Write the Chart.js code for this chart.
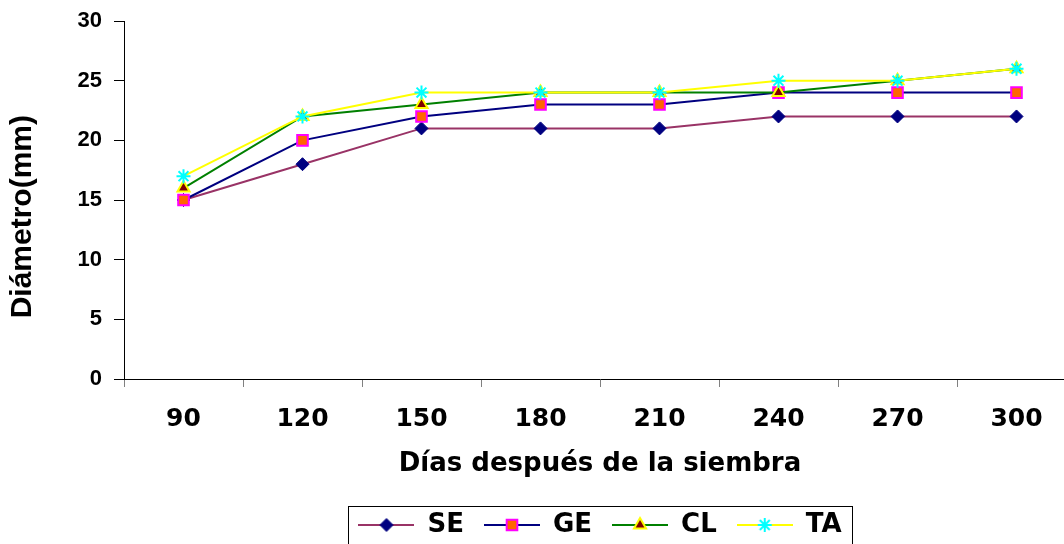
<!DOCTYPE html>
<html>
<head>
    <title>Diámetro - días después de la siembra</title>
    <script src="https://cdn.jsdelivr.net/npm/chart.js"></script>
    <style>
        html, body { margin: 0; padding: 0; background: #fff; overflow: hidden; }
        #wrap { position: relative; width: 1200px; height: 548px; }
    </style>
</head>
<body>
    <div id="wrap"><canvas id="diamChart"></canvas></div>
    <script>
        // Días después de la siembra
        const dias = ['90', '120', '150', '180', '210', '240', '270', '300'];

        // Diámetro (mm) por tratamiento
        const se = [15, 18, 21, 21, 21, 22, 22, 22];
        const ge = [15, 20, 22, 23, 23, 24, 24, 24];
        const cl = [16, 22, 23, 24, 24, 24, 25, 26];
        const ta = [17, 22, 24, 24, 24, 25, 25, 26];

        const yTicks = [0, 5, 10, 15, 20, 25, 30];

        const arialBold = size => ({ family: 'Liberation Sans, Arial, sans-serif', size: size, weight: 'bold' });
        const wideBold = size => ({ family: 'DejaVu Sans, sans-serif', size: size, weight: 'bold' });

        const series = [
            { label: 'SE', data: se, line: '#993366', style: 'rectRot', fill: '#000080', stroke: '#000080', radius: 6.5, bw: 1 },
            { label: 'GE', data: ge, line: '#000080', style: 'rect', fill: '#FF6600', stroke: '#FF00FF', radius: 7.5, bw: 2 },
            { label: 'CL', data: cl, line: '#008000', style: 'triangle', fill: '#800000', stroke: '#FFFF00', radius: 7, bw: 2 },
            { label: 'TA', data: ta, line: '#FFFF00', style: 'star', fill: '#00FFFF', stroke: '#00FFFF', radius: 7, bw: 2 }
        ];

        // small line+marker swatch for the legend
        function legendSwatch(s) {
            const c = document.createElement('canvas');
            c.width = 56;
            c.height = 20;
            const g = c.getContext('2d');
            g.strokeStyle = s.line;
            g.lineWidth = 2;
            g.beginPath();
            g.moveTo(0, 10);
            g.lineTo(56, 10);
            g.stroke();
            g.fillStyle = s.fill;
            g.strokeStyle = s.stroke;
            g.lineWidth = s.bw;
            Chart.helpers.drawPoint(g, { pointStyle: s.style, radius: s.radius, rotation: 0, borderWidth: s.bw }, 28, 10);
            return c;
        }

        // box around the legend
        const legendBorder = {
            id: 'legendBorder',
            afterDraw(chart) {
                const hb = chart.legend.legendHitBoxes;
                if (!hb || !hb.length) return;
                const last = hb[hb.length - 1];
                const cy = hb[0].top + hb[0].height / 2;
                const x0 = Math.round(hb[0].left - 10) + 0.5;
                const x1 = Math.round(last.left + last.width + 10) + 0.5;
                const y0 = Math.round(cy - 19) + 0.5;
                const ctx = chart.ctx;
                ctx.save();
                ctx.strokeStyle = '#000';
                ctx.lineWidth = 1;
                ctx.strokeRect(x0, y0, x1 - x0, 60);
                ctx.restore();
            }
        };

        new Chart(document.getElementById('diamChart'), {
            type: 'line',
            data: {
                labels: dias,
                datasets: series.map((s, i) => ({
                    label: s.label,
                    data: s.data,
                    borderColor: s.line,
                    borderWidth: 2,
                    tension: 0,
                    fill: false,
                    pointStyle: s.style,
                    pointRadius: s.radius,
                    pointHoverRadius: s.radius,
                    pointBackgroundColor: s.fill,
                    pointBorderColor: s.stroke,
                    pointBorderWidth: s.bw,
                    order: series.length - i
                }))
            },
            plugins: [legendBorder],
            options: {
                responsive: true,
                maintainAspectRatio: false,
                animation: false,
                devicePixelRatio: 1,
                layout: { padding: { top: 21, right: 124, left: 0, bottom: 0 } },
                plugins: {
                    tooltip: { enabled: false },
                    legend: {
                        position: 'bottom',
                        fullSize: false,
                        labels: {
                            usePointStyle: true,
                            pointStyleWidth: 56,
                            padding: 20,
                            color: '#000',
                            font: wideBold(26),
                            generateLabels: () => series.map((s, i) => ({
                                text: s.label,
                                pointStyle: legendSwatch(s),
                                fillStyle: s.fill,
                                strokeStyle: s.line,
                                lineWidth: 0,
                                hidden: false,
                                datasetIndex: i
                            }))
                        }
                    }
                },
                scales: {
                    x: {
                        offset: true,
                        afterFit(scale) { scale.height = 113; },
                        grid: {
                            offset: true,
                            drawOnChartArea: false,
                            drawTicks: true,
                            tickLength: 8,
                            tickColor: '#808080'
                        },
                        border: { display: true, color: '#000', width: 1 },
                        ticks: { color: '#000', font: wideBold(25), padding: 17, maxRotation: 0 },
                        title: {
                            display: true,
                            text: 'Días después de la siembra',
                            color: '#000',
                            font: wideBold(26),
                            padding: { top: 0, bottom: 12 }
                        }
                    },
                    y: {
                        min: 0,
                        max: 30,
                        afterFit(scale) {
                            scale.width = 124;
                            scale.paddingTop = 8;
                            scale.paddingBottom = 8;
                        },
                        afterBuildTicks(scale) { scale.ticks = yTicks.map(v => ({ value: v })); },
                        grid: {
                            drawOnChartArea: false,
                            drawTicks: true,
                            tickLength: 10,
                            tickColor: '#000'
                        },
                        border: { display: true, color: '#000', width: 1 },
                        ticks: { color: '#000', font: arialBold(22), padding: 12 },
                        title: {
                            display: true,
                            text: 'Diámetro(mm)    ',
                            color: '#000',
                            font: arialBold(30),
                            padding: { top: 5, bottom: 0 }
                        }
                    }
                }
            }
        });
    </script>
</body>
</html>
